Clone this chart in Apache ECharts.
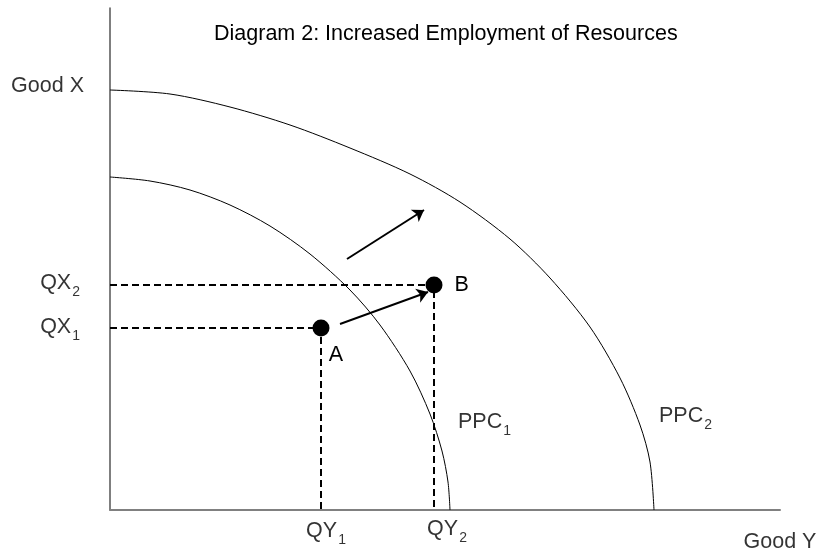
<!DOCTYPE html>
<html>
<head>
<meta charset="utf-8">
<script src="https://cdn.jsdelivr.net/npm/echarts@6/dist/echarts.min.js"></script>
<style>
  html, body { margin: 0; padding: 0; background: #fff; }
  #chart { width: 817px; height: 552px; }
</style>
</head>
<body>
<div id="chart"></div>
<script>
// quantities of good Y (x) and good X (y)
var ppc1 = [[0, 333], [40, 329], [80, 320], [120, 305], [160, 284], [200, 256], [240, 220], [270, 185], [300, 139], [320, 96], [332, 59], [338, 28], [340, 0]]
var ppc2 = [[0, 420], [60, 416], [120, 403], [180, 385], [240, 362], [300, 336], [350, 308], [400, 271], [440, 232], [480, 183], [510, 132], [530, 85], [540, 48], [544, 0]]
var pointA = [211, 182]
var pointB = [324, 225]
var moveArrow = [[230, 186], [318, 218]]
var shiftArrow = [[237, 251], [314, 300]]
var axisMax = [670, 502]

var font = 'Liberation Sans, Arial, sans-serif'
var rich = {
  m: { fontSize: 21.5, lineHeight: 32, color: '#000', fontFamily: font, verticalAlign: 'middle' },
  s: { fontSize: 14, lineHeight: 14, color: '#000', fontFamily: font, verticalAlign: 'bottom', padding: [0, 0, 0, 1] }
}

function txt(main, sub) {
  return sub ? '{m|' + main + '}{s|' + sub + '}' : '{m|' + main + '}'
}

// text labels anchored to data positions
var labels = [
  { value: [0, ppc2[0][1]], text: txt('Good X'), pos: 'left', dist: 26, off: [0, -4] },
  { value: [0, pointA[1]], text: txt('QX', '1'), pos: 'left', dist: 30, off: [0, -1] },
  { value: [0, pointB[1]], text: txt('QX', '2'), pos: 'left', dist: 30, off: [0, -2] },
  { value: [pointA[0], 0], text: txt('QY', '1'), pos: 'bottom', dist: 5, off: [5, 0] },
  { value: [pointB[0], 0], text: txt('QY', '2'), pos: 'bottom', dist: 5, off: [13, -2] },
  { value: [axisMax[0], 0], text: txt('Good Y'), pos: 'bottom', dist: 16, off: [0, 0] },
  { value: [348, 88], text: txt('PPC', '1'), pos: 'right', dist: 0, off: [0, 0] },
  { value: [549, 94], text: txt('PPC', '2'), pos: 'right', dist: 0, off: [0, 0] }
]

var myChart = echarts.init(document.getElementById('chart'))
var option = {
  animation: false,
  title: {
    text: 'Diagram 2: Increased Employment of Resources',
    left: 209,
    top: 18,
    textStyle: { fontSize: 21.5, fontWeight: 'normal', color: '#000', fontFamily: font }
  },
  grid: { left: 110, right: 37, top: 8, bottom: 42 },
  xAxis: {
    type: 'value', min: 0, max: axisMax[0],
    axisLine: { show: true, lineStyle: { color: '#808080', width: 2 } },
    axisTick: { show: false }, axisLabel: { show: false }, splitLine: { show: false }
  },
  yAxis: {
    type: 'value', min: 0, max: axisMax[1],
    axisLine: { show: true, lineStyle: { color: '#555', width: 1.5 } },
    axisTick: { show: false }, axisLabel: { show: false }, splitLine: { show: false }
  },
  series: [
    {
      name: 'PPC1', type: 'line', data: ppc1, smooth: 0.3, showSymbol: false, silent: true,
      lineStyle: { color: '#000', width: 1 }
    },
    {
      name: 'PPC2', type: 'line', data: ppc2, smooth: 0.3, showSymbol: false, silent: true,
      lineStyle: { color: '#000', width: 1 }
    },
    {
      type: 'lines', coordinateSystem: 'cartesian2d', polyline: true, silent: true,
      lineStyle: { color: '#000', width: 2, type: [7, 4], opacity: 1 },
      data: [
        { coords: [[0, pointA[1]], pointA, [pointA[0], 0]] },
        { coords: [[0, pointB[1]], pointB, [pointB[0], 0]] }
      ]
    },
    {
      type: 'lines', coordinateSystem: 'cartesian2d', silent: true,
      symbol: ['none', 'arrow'], symbolSize: 11,
      lineStyle: { color: '#000', width: 2, opacity: 1 },
      data: [{ coords: moveArrow }, { coords: shiftArrow }]
    },
    {
      type: 'scatter', symbolSize: 17, silent: true,
      itemStyle: { color: '#000', opacity: 1 },
      data: [
        { value: pointA, label: { show: true, position: 'bottom', distance: 3, offset: [15, 0], formatter: txt('A'), rich: rich } },
        { value: pointB, label: { show: true, position: 'right', distance: 12, formatter: txt('B'), rich: rich } }
      ]
    },
    {
      type: 'scatter', symbolSize: 0, silent: true, clip: false,
      data: labels.map(function (l) {
        return {
          value: l.value,
          label: { show: true, position: l.pos, distance: l.dist, offset: l.off, formatter: l.text, rich: rich }
        }
      })
    }
  ]
}
option && myChart.setOption(option)
</script>
</body>
</html>
